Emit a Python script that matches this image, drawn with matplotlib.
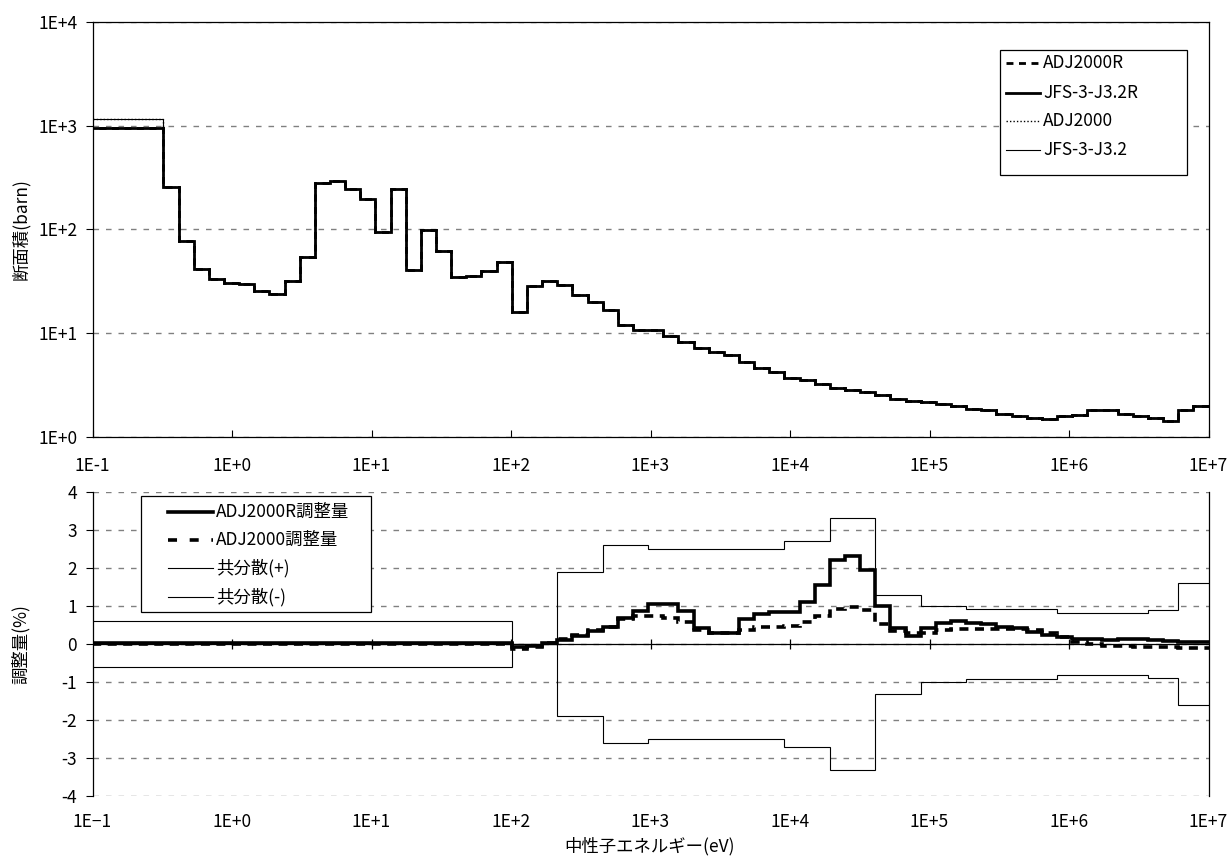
import numpy as np
import matplotlib
matplotlib.use("Agg")
import matplotlib.pyplot as plt
from matplotlib.lines import Line2D
from matplotlib.patches import Rectangle
from matplotlib.ticker import FixedLocator, NullLocator

plt.rcParams['font.family'] = ['Noto Sans CJK JP', 'DejaVu Sans']
plt.rcParams['axes.unicode_minus'] = False

W, H = 1229, 861

# JFS-3 70-group structure: 10 MeV downward in lethargy steps of 0.25,
# the lowest group reaching down to 1e-5 eV.
N_GROUPS = 70
edges_desc = np.append(1.0e7 * np.exp(-0.25 * np.arange(N_GROUPS)), 1.0e-5)
edges = edges_desc[::-1]

# Group cross sections (barn), group 1 (highest energy) .. group 69
sigma_common = [
    1.98, 1.79, 1.41, 1.50, 1.56, 1.66, 1.79, 1.81, 1.63, 1.57,
    1.49, 1.52, 1.56, 1.66, 1.79, 1.84, 1.95, 2.04, 2.15, 2.20,
    2.32, 2.49, 2.67, 2.79, 2.94, 3.19, 3.48, 3.70, 4.20, 4.62,
    5.27, 6.10, 6.50, 7.10, 8.25, 9.40, 10.6, 10.6, 12.0, 16.8,
    19.9, 23.2, 28.7, 31.7, 28.1, 15.9, 48.5, 39.8, 35.0, 34.6,
    61.0, 97.5, 40.0, 247., 94.0, 198., 244., 289., 279., 53.5,
    32.0, 23.5, 25.5, 29.5, 30.5, 33.1, 41.5, 77.5, 257.,
]
# Lowest group (0.32 eV and below)
sigma_g70_adj2000r = 945.0
sigma_g70_jfs32r = 945.0
sigma_g70_adj2000 = 1160.0
sigma_g70_jfs32 = 1160.0

# Adjustment (%) by group, group 1 .. group 70
adj_adj2000r = [
    0.05, 0.05, 0.09, 0.11, 0.12, 0.12, 0.11, 0.12, 0.13, 0.18,
    0.24, 0.32, 0.41, 0.46, 0.52, 0.56, 0.61, 0.56, 0.42, 0.22,
    0.41, 0.99, 1.95, 2.30, 2.20, 1.54, 1.10, 0.85, 0.85, 0.79,
    0.65, 0.29, 0.29, 0.42, 0.88, 1.05, 1.05, 0.88, 0.68, 0.46,
    0.33, 0.20, 0.11, 0.04, -0.06, -0.08, 0.03, 0.02, 0.02, 0.02,
    0.02, 0.02, 0.02, 0.02, 0.02, 0.02, 0.02, 0.02, 0.02, 0.02,
    0.02, 0.02, 0.02, 0.02, 0.02, 0.02, 0.02, 0.02, 0.02, 0.02,
]
adj_adj2000 = [
    -0.11, -0.11, -0.09, -0.07, -0.07, -0.05, -0.04, 0.00, 0.06, 0.19,
    0.28, 0.37, 0.39, 0.39, 0.39, 0.39, 0.39, 0.37, 0.30, 0.29,
    0.33, 0.53, 0.90, 0.97, 0.91, 0.74, 0.57, 0.48, 0.46, 0.44,
    0.36, 0.29, 0.29, 0.36, 0.57, 0.68, 0.74, 0.74, 0.65, 0.45,
    0.37, 0.24, 0.13, 0.04, -0.08, -0.13, 0.00, 0.00, 0.00, 0.00,
    0.00, 0.00, 0.00, 0.00, 0.00, 0.00, 0.00, 0.00, 0.00, 0.00,
    0.00, 0.00, 0.00, 0.00, 0.00, 0.00, 0.00, 0.00, 0.00, 0.00,
]
# Standard deviation from the covariance (%), group 1 .. group 70
cov_std = [
    1.60, 1.60, 0.90, 0.90, 0.82, 0.82, 0.82, 0.82, 0.82, 0.82,
    0.91, 0.91, 0.91, 0.91, 0.91, 0.91, 1.00, 1.00, 1.00, 1.30,
    1.30, 1.30, 3.30, 3.30, 3.30, 2.70, 2.70, 2.70, 2.50, 2.50,
    2.50, 2.50, 2.50, 2.50, 2.50, 2.50, 2.50, 2.60, 2.60, 2.60,
    1.90, 1.90, 1.90, 0.00, 0.00, 0.00, 0.60, 0.60, 0.60, 0.60,
    0.60, 0.60, 0.60, 0.60, 0.60, 0.60, 0.60, 0.60, 0.60, 0.60,
    0.60, 0.60, 0.60, 0.60, 0.60, 0.60, 0.60, 0.60, 0.60, 0.60,
]

x_ticks = [1e-1, 1e0, 1e1, 1e2, 1e3, 1e4, 1e5, 1e6, 1e7]
x_labels_top = ['1E-1', '1E+0', '1E+1', '1E+2', '1E+3', '1E+4', '1E+5', '1E+6', '1E+7']
x_labels_bot = ['1E\u22121', '1E+0', '1E+1', '1E+2', '1E+3', '1E+4', '1E+5', '1E+6', '1E+7']
y_ticks_top = [1e0, 1e1, 1e2, 1e3, 1e4]
y_labels_top = ['1E+0', '1E+1', '1E+2', '1E+3', '1E+4']
y_ticks_bot = [-4, -3, -2, -1, 0, 1, 2, 3, 4]
y_labels_bot = ['-4', '-3', '-2', '-1', '0', '1', '2', '3', '4']

legend_top_labels = ['ADJ2000R', 'JFS-3-J3.2R', 'ADJ2000', 'JFS-3-J3.2']
legend_bot_labels = ['ADJ2000R調整量', 'ADJ2000調整量', '共分散(+)', '共分散(-)']

FS = 12.5
GRID = dict(color='#808080', linestyle=(0, (4, 5)), linewidth=1.0)


def fx(px):
    return px / W


def fy(py):
    return 1 - py / H


def asc(vals):
    return np.asarray(vals, dtype=float)[::-1]


fig = plt.figure(figsize=(W / 100, H / 100), dpi=100)

X0, X1 = 92.5, 1208.5
ax1 = fig.add_axes([fx(X0), fy(436.5), fx(X1) - fx(X0), fy(22) - fy(436.5)])
ax2 = fig.add_axes([fx(X0), fy(796.4), fx(X1) - fx(X0), fy(491.7) - fy(796.4)])

# ---- cross sections ----
sig = list(sigma_common)
s_jfs32 = asc(sig + [sigma_g70_jfs32])
s_adj2000 = asc(sig + [sigma_g70_adj2000])
s_jfs32r = asc(sig + [sigma_g70_jfs32r])
s_adj2000r = asc(sig + [sigma_g70_adj2000r])

ax1.stairs(s_jfs32, edges, color='black', linewidth=0.8, baseline=None, zorder=3)
ax1.stairs(s_adj2000, edges, color='black', linewidth=1.0, linestyle=(0, (1, 1.5)),
           baseline=None, zorder=3)
ax1.stairs(s_jfs32r, edges, color='black', linewidth=2.0, baseline=None, zorder=4)
ax1.stairs(s_adj2000r, edges, color='black', linewidth=2.0, linestyle=(0, (2.5, 2)),
           baseline=None, zorder=5)

ax1.set_xscale('log')
ax1.set_yscale('log')
ax1.set_xlim(1e-1, 1e7)
ax1.set_ylim(1e0, 1e4)
ax1.xaxis.set_major_locator(FixedLocator(x_ticks))
ax1.xaxis.set_minor_locator(NullLocator())
ax1.set_xticklabels(x_labels_top, fontsize=FS)
ax1.yaxis.set_major_locator(FixedLocator(y_ticks_top))
ax1.yaxis.set_minor_locator(NullLocator())
ax1.set_yticklabels(y_labels_top, fontsize=FS)
ax1.tick_params(axis='x', direction='in', length=5, width=0.8, pad=15)
ax1.tick_params(axis='y', direction='out', length=5, width=0.8, pad=6)
ax1.grid(True, axis='y', **GRID)
ax1.set_axisbelow(True)
for s in ax1.spines.values():
    s.set_linewidth(0.9)
ax1.set_ylabel('断面積(barn)', fontsize=FS)

# ---- adjustments ----
cov = asc(cov_std)
ax2.stairs(cov, edges, color='black', linewidth=0.8, baseline=None, zorder=3)
ax2.stairs(-cov, edges, color='black', linewidth=0.8, baseline=None, zorder=3)
ax2.stairs(asc(adj_adj2000), edges, color='black', linewidth=2.6,
           linestyle=(0, (2.5, 1.8)), baseline=None, zorder=5)
ax2.stairs(asc(adj_adj2000r), edges, color='black', linewidth=2.6,
           baseline=None, zorder=6)
ax2.axhline(0, color='black', linewidth=0.9, zorder=2)
ax2.vlines(x_ticks[1:-1], -0.12, 0.12, color='black', linewidth=0.9, zorder=2)

ax2.set_xscale('log')
ax2.set_xlim(1e-1, 1e7)
ax2.set_ylim(-4, 4)
ax2.xaxis.set_major_locator(FixedLocator(x_ticks))
ax2.xaxis.set_minor_locator(NullLocator())
ax2.set_xticklabels(x_labels_bot, fontsize=FS)
ax2.yaxis.set_major_locator(FixedLocator(y_ticks_bot))
ax2.set_yticklabels(y_labels_bot, fontsize=FS)
ax2.tick_params(axis='x', length=0, pad=12)
ax2.tick_params(axis='y', direction='out', length=5, width=0.8, pad=6)
ax2.grid(True, axis='y', **GRID)
ax2.set_axisbelow(True)
ax2.spines['top'].set_visible(False)
ax2.spines['bottom'].set_visible(False)
ax2.spines['left'].set_linewidth(0.9)
ax2.spines['right'].set_linewidth(0.9)
ax2.set_ylabel('調整量(%)', fontsize=FS)

# Both y labels share one horizontal position (label centre near x = 21 px)
for a in (ax1, ax2):
    a.yaxis.set_label_coords((30.0 - X0) / (X1 - X0), 0.5)

fig.text(fx(650), fy(846), '中性子エネルギー(eV)', fontsize=FS, ha='center', va='center')


# ---- legends ----
def draw_legend(box, handles, hx, tx, ys, labels):
    x0, y0, x1, y1 = box
    fig.patches.append(Rectangle((fx(x0), fy(y1)), fx(x1) - fx(x0), fy(y0) - fy(y1),
                                 transform=fig.transFigure, facecolor='white',
                                 edgecolor='black', linewidth=0.9, zorder=10))
    for (style, y, lab) in zip(handles, ys, labels):
        fig.add_artist(Line2D([fx(hx[0]), fx(hx[1])], [fy(y), fy(y)],
                              transform=fig.transFigure, color='black', zorder=11, **style))
        fig.text(fx(tx), fy(y), lab, fontsize=FS, ha='left', va='center', zorder=12)


top_handles = [
    dict(linewidth=2.0, linestyle=(0, (2.5, 2))),
    dict(linewidth=2.0, linestyle='-'),
    dict(linewidth=1.0, linestyle=(0, (1, 1.5))),
    dict(linewidth=0.8, linestyle='-'),
]
draw_legend((1000, 50, 1187, 175), top_handles, (1006, 1040), 1043,
            [63, 92.5, 121, 150], legend_top_labels)

bot_handles = [
    dict(linewidth=2.6, linestyle='-'),
    dict(linewidth=2.6, linestyle=(0, (2.5, 3.5))),
    dict(linewidth=0.8, linestyle='-'),
    dict(linewidth=0.8, linestyle='-'),
]
draw_legend((141, 496, 371, 612), bot_handles, (168, 213), 216,
            [511.7, 540, 568.3, 596.7], legend_bot_labels)

fig.savefig('out.png', dpi=100)
